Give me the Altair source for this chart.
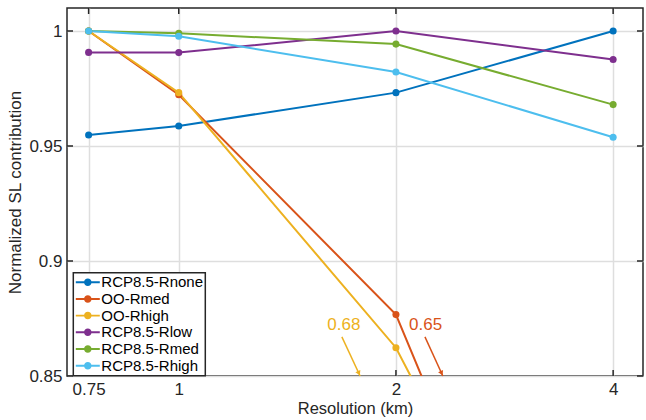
import altair as alt
import pandas as pd

# Resolution (km) and normalized sea-level contribution for each experiment
resolutions = [0.75, 1, 2, 4]
series_names = ["RCP8.5-Rnone", "OO-Rmed", "OO-Rhigh",
                "RCP8.5-Rlow", "RCP8.5-Rmed", "RCP8.5-Rhigh"]
rcp_rnone = [0.9548, 0.9587, 0.9732, 1.0]
oo_rmed = [1.0, 0.9723, 0.8767, 0.65]
oo_rhigh = [1.0, 0.9732, 0.8623, 0.68]
rcp_rlow = [0.9907, 0.9906, 1.0, 0.9876]
rcp_rmed = [1.0, 0.9990, 0.9943, 0.9680]
rcp_rhigh = [1.0, 0.9977, 0.9822, 0.9538]
series_colors = ["#0072BD", "#D95319", "#EDB120", "#7E2F8E", "#77AC30", "#4DBEEE"]

x_ticks = [0.75, 1, 2, 4]
y_ticks = [0.85, 0.9, 0.95, 1.0]

# Off-scale end values called out with arrows
ann_labels = ["0.68", "0.65"]
ann_colors = ["#EDB120", "#D95319"]
ann_text_x = [1.694, 2.199]
ann_text_y = [0.8720, 0.8720]
arrow_x0 = [1.683, 2.194]
arrow_y0 = [0.8670, 0.8670]
arrow_x1 = [1.784, 2.323]
arrow_y1 = [0.85, 0.85]

W, H = 576, 368
INK = "#262626"
FONT = "Liberation Sans"

values = [rcp_rnone, oo_rmed, oo_rhigh, rcp_rlow, rcp_rmed, rcp_rhigh]
rows = []
for k, (name, vals) in enumerate(zip(series_names, values)):
    for r, v in zip(resolutions, vals):
        rows.append({"series": name, "order": k, "res": r, "val": v})
df = pd.DataFrame(rows)

ann = pd.DataFrame({
    "label": ann_labels, "color": ann_colors,
    "tx": ann_text_x, "ty": ann_text_y,
    "x0": arrow_x0, "y0": arrow_y0, "x1": arrow_x1, "y1": arrow_y1,
})
xt = pd.DataFrame({"x": x_ticks})
yt = pd.DataFrame({"y": y_ticks})

x_scale = alt.Scale(type="log", domain=[0.7, 4.4], nice=False)
y_scale = alt.Scale(domain=[0.85, 1.01], nice=False, zero=False)

x_axis = alt.Axis(values=x_ticks, format="~g", grid=True, ticks=False, tickSize=0,
                  domain=False, labelPadding=5, title="Resolution (km)",
                  titlePadding=3, titleFontSize=16.5)
y_axis = alt.Axis(values=y_ticks, format="~g", grid=True, ticks=False, tickSize=0,
                  domain=False, labelPadding=5, title="Normalized SL contribution",
                  titlePadding=4)

legend_path = ("M-1.6,-0.13L1.6,-0.13L1.6,0.13L-1.6,0.13Z"
               "M0.5,0A0.5,0.5 0 1,1 -0.5,0A0.5,0.5 0 1,1 0.5,0Z")

color_plain = alt.Color("series:N", scale=alt.Scale(domain=series_names, range=series_colors),
                        legend=None)
color_legend = alt.Color(
    "series:N",
    scale=alt.Scale(domain=series_names, range=series_colors),
    legend=alt.Legend(
        title=None, orient="none", legendX=6.3, legendY=264.7,
        symbolType=legend_path, symbolSize=225, symbolStrokeWidth=0,
        symbolOffset=5, labelOffset=6, padding=2, rowPadding=0.7,
        labelFontSize=15, labelFont=FONT, labelColor="#000000", labelLimit=300,
        strokeColor=INK, fillColor="#ffffff",
    ),
)

lines = alt.Chart(df).mark_line(strokeWidth=2, clip=True).encode(
    x=alt.X("res:Q", scale=x_scale, axis=x_axis),
    y=alt.Y("val:Q", scale=y_scale, axis=y_axis),
    color=color_plain,
    order="res:Q",
    detail="series:N",
)

points = alt.Chart(df).mark_circle(size=50, opacity=1, clip=True).encode(
    x=alt.X("res:Q", scale=x_scale),
    y=alt.Y("val:Q", scale=y_scale),
    color=color_legend,
    order="order:Q",
)

# inward axis ticks on all four sides of the box
tick_style = dict(color=INK, strokeWidth=1.5)
bottom_ticks = alt.Chart(xt).mark_rule(**tick_style).encode(
    x=alt.X("x:Q", scale=x_scale), y=alt.value(H), y2=alt.value(H - 6))
top_ticks = alt.Chart(xt).mark_rule(**tick_style).encode(
    x=alt.X("x:Q", scale=x_scale), y=alt.value(0), y2=alt.value(6))
left_ticks = alt.Chart(yt).mark_rule(**tick_style).encode(
    y=alt.Y("y:Q", scale=y_scale), x=alt.value(0), x2=alt.value(6))
right_ticks = alt.Chart(yt).mark_rule(**tick_style).encode(
    y=alt.Y("y:Q", scale=y_scale), x=alt.value(W), x2=alt.value(W - 6))

ann_text = alt.Chart(ann).mark_text(fontSize=17, font=FONT).encode(
    x=alt.X("tx:Q", scale=x_scale), y=alt.Y("ty:Q", scale=y_scale),
    text="label:N", color=alt.Color("color:N", scale=None),
)
ann_shaft = alt.Chart(ann).mark_rule(strokeWidth=1.5).encode(
    x=alt.X("x0:Q", scale=x_scale), y=alt.Y("y0:Q", scale=y_scale),
    x2="x1:Q", y2="y1:Q", color=alt.Color("color:N", scale=None),
)
ann_head = alt.Chart(ann).mark_point(
    shape="triangle-up", filled=True, size=30, angle=155, opacity=1,
    xOffset=-1.3, yOffset=-2.8,
).encode(
    x=alt.X("x1:Q", scale=x_scale), y=alt.Y("y1:Q", scale=y_scale),
    color=alt.Color("color:N", scale=None),
)

chart = alt.layer(
    lines, points, bottom_ticks, top_ticks, left_ticks, right_ticks,
    ann_shaft, ann_head, ann_text,
).resolve_scale(color="independent").properties(
    width=W, height=H,
    padding={"left": 67, "top": 8, "right": 3, "bottom": 44},
    autosize=alt.AutoSizeParams(type="none"),
    background="#ffffff",
).configure_view(
    stroke=INK, strokeWidth=1.5,
).configure_axis(
    gridColor="#dedede", gridWidth=1.5,
    labelFont=FONT, labelFontSize=17, labelColor=INK,
    titleFont=FONT, titleFontSize=17, titleFontWeight="normal", titleColor=INK,
).configure_legend(
    strokeWidth=1.5,
)

chart.save("out.html", embed_options={"renderer": "svg", "actions": False})
